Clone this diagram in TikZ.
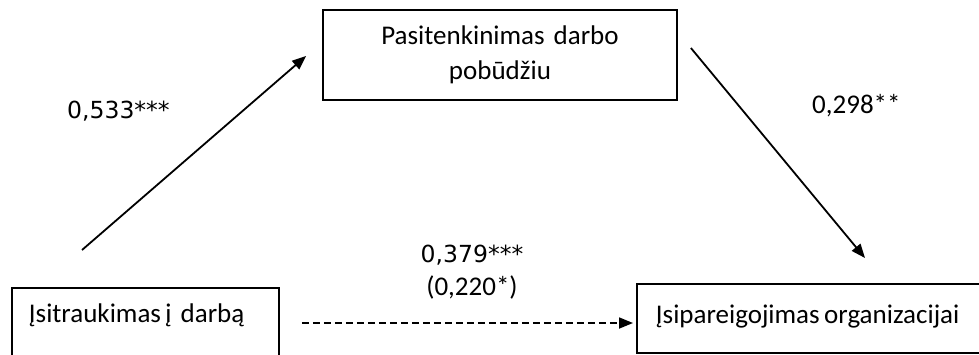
\documentclass[tikz,border=0pt]{standalone}
\usepackage{fontspec}
\setmainfont{Carlito}
\newfontfamily\numfont{DejaVu Sans}
\usetikzlibrary{arrows.meta}
\begin{document}
\begin{tikzpicture}[x=1pt,y=-1pt,
  boxstyle/.style={draw=black, line width=1.8pt, rectangle, font=\fontsize{27}{35}\selectfont},
  arr/.style={line width=1.8pt, -{Triangle[length=14pt,width=11pt]}},
  dasharr/.style={arr, dash pattern=on 7pt off 4pt},
  carl/.style={font=\fontsize{27}{31}\selectfont, inner sep=0pt},
  dvs/.style={font=\numfont\fontsize{23.5}{28}\selectfont, inner sep=0pt}]
  \useasboundingbox (0,0) rectangle (979,354);
  \clip (0,0) rectangle (979,354);

  % boxes
  \node[boxstyle, minimum width=354pt, minimum height=90pt, text width=330pt, align=center, inner sep=0pt]
    (med) at (500,55) {Pasitenkinimas darbo\\pobūdžiu};
  \node[boxstyle, anchor=north west, text width=233pt, align=left, inner xsep=17pt, inner ysep=17pt,
    text height=18pt, text depth=60pt] (ind) at (11,287) {Įsitraukimas\,į darbą};
  \node[boxstyle, anchor=north west, text width=380pt, align=left, inner xsep=19pt, inner ysep=20pt,
    text height=20pt, text depth=9pt] (dep) at (636,283) {Įsipareigojimas\,organizacijai};

  % paths
  \draw[arr] ([xshift=71pt,yshift=37pt]ind.north west) -- ([xshift=-16pt,yshift=-1pt]med.west);
  \draw[arr] ([xshift=13pt,yshift=7pt]med.east) -- ([xshift=229pt,yshift=25pt]dep.north west);
  \draw[dasharr] ([xshift=22pt,yshift=-36pt]ind.north east) -- ([xshift=-3pt,yshift=-40pt]dep.north west);

  % coefficients
  \node[dvs, anchor=base west] (a) at (67,118) {0,533***};
  \node[carl, anchor=base west] (b) at (812,113) {0,298**};
  \node[dvs, anchor=base] (c) at (472,262) {0,379***};
  \node[carl, anchor=base] (cp) at (472,295) {(0,220*)};
\end{tikzpicture}
\end{document}
